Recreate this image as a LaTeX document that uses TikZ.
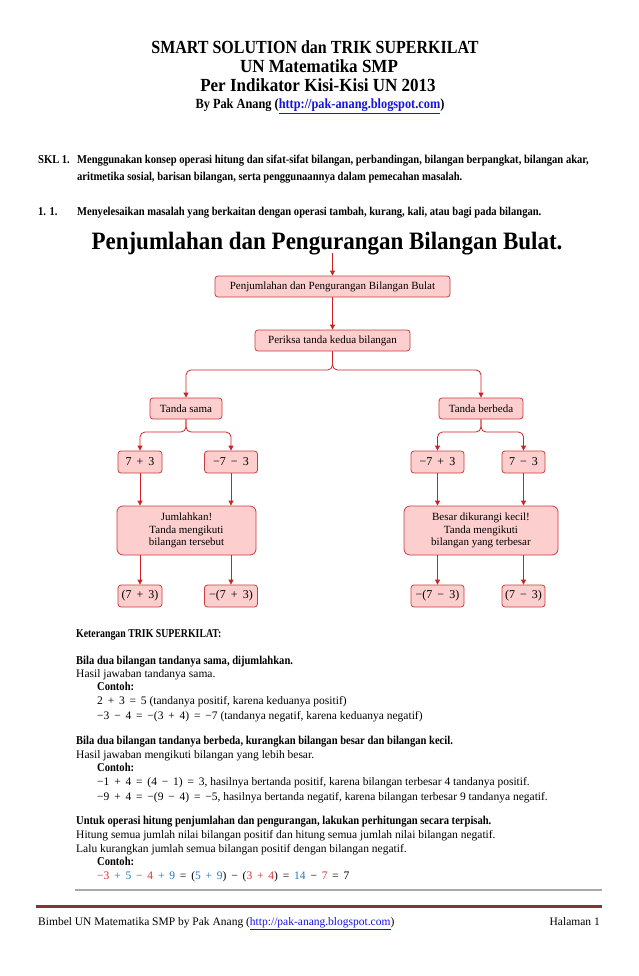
\documentclass[tikz,border=0pt]{standalone}
\usepackage{fontspec}
\usepackage{graphicx}
\setmainfont{Liberation Serif}
\newfontfamily\cond{Liberation Serif}[FakeStretch=0.88]
\newfontfamily\titf{Liberation Serif}[FakeStretch=0.92]
\usetikzlibrary{arrows.meta}
\newcommand{\bop}[1]{\hspace{0.42em}#1\hspace{0.42em}}
\newcommand{\bm}[1]{{\fontsize{12}{13}\selectfont #1}}
\definecolor{boxfill}{RGB}{252,206,206}
\definecolor{boxdraw}{RGB}{205,60,60}
\definecolor{arr}{RGB}{205,35,35}
\definecolor{linkblue}{RGB}{20,20,220}
\definecolor{cred}{RGB}{215,50,50}
\definecolor{cblue}{RGB}{40,115,185}
\definecolor{footred}{RGB}{125,55,55}
\definecolor{footgray}{RGB}{170,170,165}
\tikzset{
  fbox/.style={draw=boxdraw, fill=boxfill, rounded corners=3pt, line width=0.8pt,
    font=\fontsize{11}{12.5}\selectfont, inner sep=0pt, align=center, minimum height=21pt},
  conn/.style={draw=arr, line width=0.8pt, -{Triangle[length=5pt,width=5pt]}},
  txt/.style={anchor=base west, inner sep=0pt, font=\fontsize{11.5}{14}\selectfont},
  btxt/.style={anchor=base west, inner sep=0pt, font=\cond\bfseries\fontsize{12}{14}\selectfont},
  ttl/.style={anchor=base, inner sep=0pt, font=\titf\bfseries\fontsize{18.5}{20}\selectfont},
}
\begin{document}
\begin{tikzpicture}[x=1pt,y=-1pt]
\useasboundingbox[fill=white] (0,0) rectangle (638,976);
% title
\node[ttl] (t1) at (315,54) {\scalebox{0.94}[1]{SMART SOLUTION dan TRIK SUPERKILAT}};
\node[ttl] (t2) at (319,73) {UN Matematika SMP};
\node[ttl] (t3) at (318,92) {Per Indikator Kisi-Kisi UN 2013};
\node[ttl, font=\cond\bfseries\fontsize{14}{15}\selectfont] (t4) at (320,109) {By Pak Anang (\textcolor{linkblue}{\underline{http://pak-anang.blogspot.com}})};
% SKL
\node[btxt] (skl) at (38,164) {SKL 1.};
\node[btxt] (skl1) at (77,164) {Menggunakan konsep operasi hitung dan sifat-sifat bilangan, perbandingan, bilangan berpangkat, bilangan akar,};
\node[btxt] (skl2) at (77,181) {aritmetika sosial, barisan bilangan, serta penggunaannya dalam pemecahan masalah.};
\node[btxt] (ind) at (38,215) {1. 1.};
\node[btxt] (ind1) at (77,215) {Menyelesaikan masalah yang berkaitan dengan operasi tambah, kurang, kali, atau bagi pada bilangan.};
\node[anchor=base, inner sep=0pt, font=\titf\bfseries\fontsize{25}{27}\selectfont] (head) at (327,250) {Penjumlahan dan Pengurangan Bilangan Bulat.};
% flowchart
\coordinate (start) at (332.5,253);
\node[fbox, minimum width=235pt] (b1) at (332.5,286.5) {Penjumlahan dan Pengurangan Bilangan Bulat};
\node[fbox, minimum width=155pt] (b2) at (332.5,340.5) {Periksa tanda kedua bilangan};
\node[fbox, minimum width=72pt] (ts) at (186,408.5) {Tanda sama};
\node[fbox, minimum width=84pt] (tb) at (481,408.5) {Tanda berbeda};
\node[fbox, minimum width=44pt, minimum height=22pt] (a1) at (140,462) {\bm{7\bop{+}3}};
\node[fbox, minimum width=53pt, minimum height=22pt] (a2) at (231,462) {\bm{−7\bop{−}3}};
\node[fbox, minimum width=53pt, minimum height=22pt] (a3) at (437.5,462) {\bm{−7\bop{+}3}};
\node[fbox, minimum width=43pt, minimum height=22pt] (a4) at (523.5,462) {\bm{7\bop{−}3}};
\node[fbox, minimum width=139pt, minimum height=49pt, rounded corners=6pt] (j1) at (186.5,530.5) {Jumlahkan!\\Tanda mengikuti\\bilangan tersebut};
\node[fbox, minimum width=154pt, minimum height=49pt, rounded corners=6pt] (j2) at (481,530.5) {Besar dikurangi kecil!\\Tanda mengikuti\\bilangan yang terbesar};
\node[fbox, minimum width=44pt, minimum height=22pt] (c1) at (140,596) {\bm{(7\bop{+}3)}};
\node[fbox, minimum width=53pt, minimum height=22pt] (c2) at (231,596) {\bm{−(7\bop{+}3)}};
\node[fbox, minimum width=53pt, minimum height=22pt] (c3) at (437.5,596) {\bm{−(7\bop{−}3)}};
\node[fbox, minimum width=43pt, minimum height=22pt] (c4) at (523.5,596) {\bm{(7\bop{−}3)}};
\coordinate (s0) at (332.5,370);
\coordinate (sl) at (186,432);
\coordinate (sr) at (481,432);
\draw[conn] (start) -- (b1.north);
\draw[conn] (b1.south) -- (b2.north);
\draw[conn, rounded corners=5pt] (b2.south) -- (s0) -| (ts.north);
\draw[conn, rounded corners=5pt] (b2.south) -- (s0) -| (tb.north);
\draw[conn, rounded corners=5pt] (ts.south) -- (sl) -| (a1.north);
\draw[conn, rounded corners=5pt] (ts.south) -- (sl) -| (a2.north);
\draw[conn, rounded corners=5pt] (tb.south) -- (sr) -| (a3.north);
\draw[conn, rounded corners=5pt] (tb.south) -- (sr) -| (a4.north);
\draw[conn] (a1.south) -- (a1.south |- j1.north);
\draw[conn] (a2.south) -- (a2.south |- j1.north);
\draw[conn] (a3.south) -- (a3.south |- j2.north);
\draw[conn] (a4.south) -- (a4.south |- j2.north);
\draw[conn] (j1.south -| c1.north) -- (c1.north);
\draw[conn] (j1.south -| c2.north) -- (c2.north);
\draw[conn] (j2.south -| c3.north) -- (c3.north);
\draw[conn] (j2.south -| c4.north) -- (c4.north);
% explanation
\node[btxt] (k0) at (76,637) {\scalebox{0.93}[1]{Keterangan TRIK SUPERKILAT:}};
\node[btxt] (k1) at (76,664) {Bila dua bilangan tandanya sama, dijumlahkan.};
\node[txt] (k2) at (76,677) {Hasil jawaban tandanya sama.};
\node[btxt] (k3) at (97,690) {Contoh:};
\node[txt] (k4) at (97,704) {2\bop{+}3\bop{=}5 (tandanya positif, karena keduanya positif)};
\node[txt] (k5) at (97,719) {−3\bop{−}4\bop{=}−(3\bop{+}4)\bop{=}−7 (tandanya negatif, karena keduanya negatif)};
\node[btxt] (k6) at (76,744) {Bila dua bilangan tandanya berbeda, kurangkan bilangan besar dan bilangan kecil.};
\node[txt] (k7) at (76,758) {Hasil jawaban mengikuti bilangan yang lebih besar.};
\node[btxt] (k8) at (97,771) {Contoh:};
\node[txt] (k9) at (97,785) {−1\bop{+}4\bop{=}(4\bop{−}1)\bop{=}3, hasilnya bertanda positif, karena bilangan terbesar 4 tandanya positif.};
\node[txt] (k10) at (97,800) {−9\bop{+}4\bop{=}−(9\bop{−}4)\bop{=}−5, hasilnya bertanda negatif, karena bilangan terbesar 9 tandanya negatif.};
\node[btxt] (k11) at (76,824) {Untuk operasi hitung penjumlahan dan pengurangan, lakukan perhitungan secara terpisah.};
\node[txt] (k12) at (76,838) {Hitung semua jumlah nilai bilangan positif dan hitung semua jumlah nilai bilangan negatif.};
\node[txt] (k13) at (76,852) {Lalu kurangkan jumlah semua bilangan positif dengan bilangan negatif.};
\node[btxt] (k14) at (97,865) {Contoh:};
\node[txt] (k15) at (97,879) {\textcolor{cred}{−3}\bop{\textcolor{cblue}{+}}\textcolor{cblue}{5}\bop{\textcolor{cred}{−}}\textcolor{cred}{4}\bop{\textcolor{cblue}{+}}\textcolor{cblue}{9}\bop{=}(\textcolor{cblue}{5\bop{+}9})\bop{−}(\textcolor{cred}{3\bop{+}4})\bop{=}\textcolor{cblue}{14}\bop{−}\textcolor{cred}{7}\bop{=}7};
% footer
\coordinate (g1) at (75,890);
\coordinate (g2) at (602,890);
\coordinate (r1) at (36,906);
\coordinate (r2) at (602,906);
\draw[footgray, line width=1.8pt] (g1) -- (g2);
\draw[footred, line width=3pt] (r1) -- (r2);
\node[txt] (f1) at (38,925) {Bimbel UN Matematika SMP by Pak Anang (\textcolor{linkblue}{\underline{http://pak-anang.blogspot.com}})};
\node[txt, anchor=base east] (f2) at (600,925) {Halaman 1};
\end{tikzpicture}
\end{document}
